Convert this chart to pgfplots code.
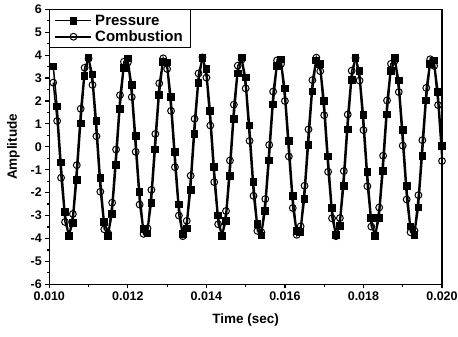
\documentclass[border=0pt]{standalone}
\usepackage{fontspec}
\setmainfont{Liberation Sans}
\usepackage{pgfplots}
\usepackage{pgfplotstable}
\pgfplotsset{compat=1.18}
\pgfplotstableread{
t P C
0.0101 3.50 2.80
0.0102 1.76 1.13
0.0103 -0.69 -1.35
0.0104 -2.86 -3.28
0.0105 -3.88 -3.89
0.0106 -3.34 -2.93
0.0107 -1.45 -0.80
0.0108 1.02 1.66
0.0109 3.08 3.45
0.0110 3.90 3.85
0.0111 3.15 2.70
0.0112 1.13 0.46
0.0113 -1.35 -1.96
0.0114 -3.28 -3.60
0.0115 -3.89 -3.78
0.0116 -2.93 -2.44
0.0117 -0.80 -0.12
0.0118 1.66 2.25
0.0119 3.45 3.71
0.0120 3.85 3.68
0.0121 2.70 2.17
0.0122 0.46 -0.22
0.0123 -1.96 -2.52
0.0124 -3.60 -3.80
0.0125 -3.78 -3.56
0.0126 -2.44 -1.88
0.0127 -0.12 0.56
0.0128 2.25 2.77
0.0129 3.71 3.86
0.0130 3.68 3.40
0.0131 2.17 1.57
0.0132 -0.22 -0.89
0.0133 -2.52 -3.00
0.0134 -3.80 -3.90
0.0135 -3.56 -3.23
0.0136 -1.88 -1.26
0.0137 0.56 1.22
0.0138 2.77 3.20
0.0139 3.86 3.90
0.0140 3.40 3.02
0.0141 1.57 0.93
0.0142 -0.89 -1.54
0.0143 -3.00 -3.38
0.0144 -3.90 -3.87
0.0145 -3.23 -2.80
0.0146 -1.26 -0.60
0.0147 1.22 1.84
0.0148 3.20 3.54
0.0149 3.90 3.81
0.0150 3.02 2.55
0.0151 0.93 0.26
0.0152 -1.54 -2.14
0.0153 -3.38 -3.67
0.0154 -3.87 -3.73
0.0155 -2.80 -2.28
0.0156 -0.60 0.08
0.0157 1.84 2.41
0.0158 3.54 3.77
0.0159 3.81 3.61
0.0160 2.55 2.00
0.0161 0.26 -0.42
0.0162 -2.14 -2.67
0.0163 -3.67 -3.84
0.0164 -3.73 -3.47
0.0165 -2.28 -1.70
0.0166 0.08 0.76
0.0167 2.41 2.91
0.0168 3.77 3.89
0.0169 3.61 3.30
0.0170 2.00 1.38
0.0171 -0.42 -1.09
0.0172 -2.67 -3.12
0.0173 -3.84 -3.90
0.0174 -3.47 -3.11
0.0175 -1.70 -1.06
0.0176 0.76 1.41
0.0177 2.91 3.32
0.0178 3.89 3.88
0.0179 3.30 2.89
0.0180 1.38 0.73
0.0181 -1.09 -1.72
0.0182 -3.12 -3.48
0.0183 -3.90 -3.84
0.0184 -3.11 -2.65
0.0185 -1.06 -0.39
0.0186 1.41 2.02
0.0187 3.32 3.62
0.0188 3.88 3.76
0.0189 2.89 2.39
0.0190 0.73 0.05
0.0191 -1.72 -2.30
0.0192 -3.48 -3.73
0.0193 -3.84 -3.66
0.0194 -2.65 -2.11
0.0195 -0.39 0.29
0.0196 2.02 2.57
0.0197 3.62 3.82
0.0198 3.76 3.53
0.0199 2.39 1.82
0.0200 0.05 -0.62
}\datatable
\begin{document}
\begin{tikzpicture}
\begin{axis}[
  scale only axis,
  width=392.7pt, height=275pt,
  xmin=0.010, xmax=0.020,
  ymin=-6, ymax=6,
  xtick={0.010,0.012,0.014,0.016,0.018,0.020},
  ytick={-6,-5,...,6},
  minor x tick num=1,
  minor y tick num=1,
  scaled x ticks=false,
  xticklabel style={/pgf/number format/.cd, fixed, fixed zerofill, precision=3},
  /pgf/number format/assume math mode=true,
  tick label style={font=\bfseries\fontsize{12.5}{13}\selectfont},
  tick align=outside,
  xtick pos=left, ytick pos=left,
  major tick length=4pt,
  minor tick length=2.5pt,
  axis line style={line width=1.4pt},
  every tick/.style={line width=1.2pt, black},
  xlabel={Time (sec)},
  ylabel={Amplitude},
  label style={font=\bfseries\fontsize{13.5}{14}\selectfont},
  xlabel style={yshift=-6pt},
  ylabel style={yshift=4pt},
  legend style={at={(0,1)}, anchor=north west, draw=black, line width=0.9pt,
    font=\bfseries\fontsize{15}{16}\selectfont, inner xsep=5pt, inner ysep=3pt,
    nodes={inner xsep=3pt, inner ysep=2pt},
    row sep=0pt},
  legend cell align=left,
  legend image code/.code={%
    \draw[mark repeat=2, mark phase=2] plot coordinates {(0pt,0pt) (18pt,0pt) (36pt,0pt)};},
]
\addplot[black, line width=1.5pt, mark=square*, mark size=3.1pt, mark options={solid, fill=black}] table[x=t, y=P] {\datatable};
\addlegendentry{Pressure}
\addplot[black, line width=1.5pt, mark=o, mark size=3.4pt, mark options={solid, fill=white, line width=1pt}] table[x=t, y=C] {\datatable};
\addlegendentry{Combustion}
\end{axis}
\pgfresetboundingbox
\path (current axis.south west) ++(-49.3pt,-51.7pt) coordinate (bl);
\path (current axis.north east) ++(16pt,9.3pt) coordinate (tr);
\path[use as bounding box] (bl) rectangle (tr);
\end{tikzpicture}
\end{document}
